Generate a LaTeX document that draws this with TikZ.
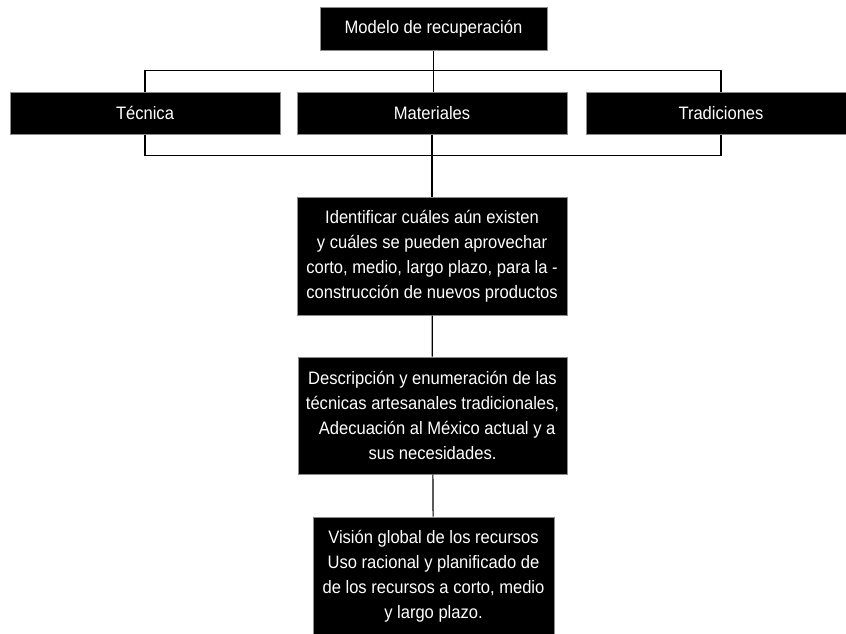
\documentclass[tikz,border=0pt]{standalone}
\usepackage{fontspec}
\setmainfont{Liberation Sans}[FakeStretch=0.92]
\begin{document}
\begin{tikzpicture}[x=1pt,y=-1pt,
        blackbox/.style={draw=black!45,line width=1pt,fill=black,text=white,
            align=center,inner sep=0pt,font=\fontsize{18}{25}\selectfont},
        link/.style={draw=black,line width=1.2pt}]
    \useasboundingbox (0,0) rectangle (846,633);

    % top box
    \node[blackbox,minimum width=227,minimum height=43] (model) at (433.5,28.5) {Modelo de recuperaci\'on};

    % three branches
    \node[blackbox,minimum width=270,minimum height=42] (tecnica) at (145,113) {T\'ecnica};
    \node[blackbox,minimum width=270,minimum height=42] (materiales) at (432,113) {Materiales};
    \node[blackbox,minimum width=270,minimum height=42] (tradiciones) at (721,113) {Tradiciones};

    % column of steps
    \node[blackbox,minimum width=270,minimum height=118] (identificar) at (432,256)
        {Identificar cu\'ales a\'un existen\\ y cu\'ales se pueden aprovechar\\
         corto, medio, largo plazo, para la -\\ construcci\'on de nuevos productos};
    \node[blackbox,minimum width=269,minimum height=117] (descripcion) at (432.5,415.5)
        {Descripci\'on y enumeraci\'on de las\\ t\'ecnicas artesanales tradicionales,\\
         \ \ Adecuaci\'on al M\'exico actual y a\\ sus necesidades.};
    \node[blackbox,minimum width=241,minimum height=118] (vision) at (433.5,576)
        {Visi\'on global de los recursos\\ Uso racional y planificado de\\
         de los recursos a corto, medio\\ y largo plazo.};

    \begin{scope}[every path/.style={link}]
        % upper bar
        \draw (model.south) -- (model.south |- materiales.north);
        \draw (tecnica.north) -- ++(0,-21) -| (tradiciones.north);

        % lower bar
        \draw (tecnica.south) -- ++(0,21) -| (tradiciones.south);
        \draw (materiales.south) -- (identificar.north);

        % steps
        \draw (identificar) -- (descripcion);
        \draw (descripcion) -- (vision);
    \end{scope}
\end{tikzpicture}
\end{document}
